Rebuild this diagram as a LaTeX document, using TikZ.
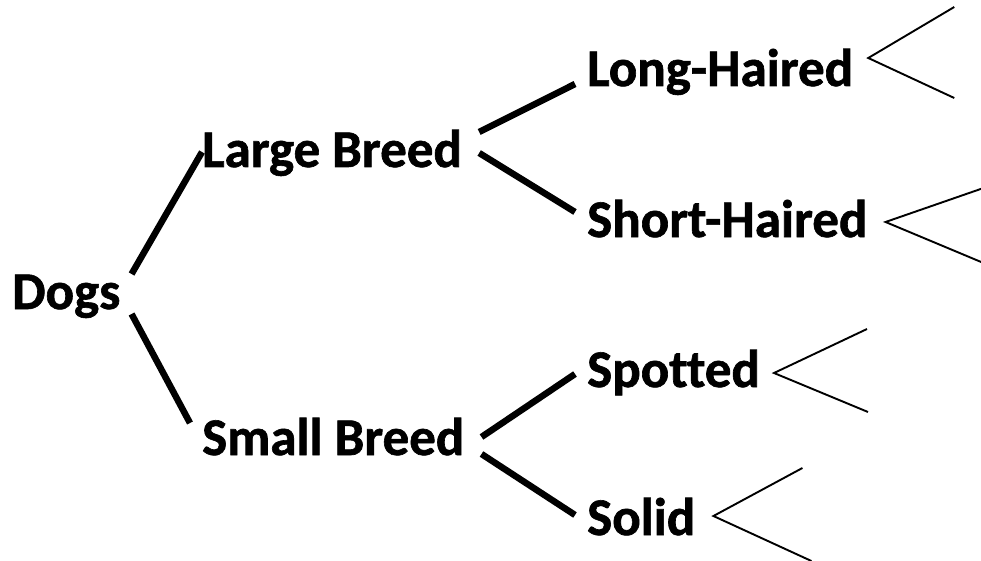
\documentclass[tikz,border=0pt]{standalone}
\usepackage{fontspec}
\setmainfont{Carlito}[Ligatures=NoCommon, BoldFeatures={FakeBold=1.2}]
\begin{document}
\begin{tikzpicture}[x=1pt, y=-1pt, lbl/.style = {font=\fontsize{53}{60}\selectfont\bfseries, anchor=west, inner sep=0pt, text height=34pt, text depth=0pt}, branch/.style = {line width=6.5pt}, fork/.style = {line width=1.9pt}]
      \useasboundingbox (0,0) rectangle (981,561);
      \node[lbl] (dogs) at (12,292) {Dogs};
      \node[lbl] (large) at (202,150) {Large Breed};
      \node[lbl] (small) at (202,438) {Small Breed};
      \node[lbl] (long) at (587,69) {Long-Haired};
      \node[lbl] (short) at (587,220) {Short-Haired};
      \node[lbl] (spotted) at (587,370) {Spotted};
      \node[lbl] (solid) at (587,518) {Solid};
      \draw[branch] ([shift={(11,-18)}]dogs.east) -- ([shift={(0,2)}]large.west);
      \draw[branch] ([shift={(11,22)}]dogs.east) -- ([shift={(-12,-15)}]small.west);
      \draw[branch] ([shift={(17,-18)}]large.east) -- ([shift={(-12,15)}]long.west);
      \draw[branch] ([shift={(17,3)}]large.east) -- ([shift={(-12,-8)}]short.west);
      \draw[branch] ([shift={(17,-1)}]small.east) -- ([shift={(-12,4)}]spotted.west);
      \draw[branch] ([shift={(17,16)}]small.east) -- ([shift={(-12,-3)}]solid.west);
      \draw[fork] ([shift={(15,-11)}]long.east) ++(86,-51) -- ([shift={(15,-11)}]long.east) -- ++(86,40);
      \draw[fork] ([shift={(18,2)}]short.east) ++(98,-34) -- ([shift={(18,2)}]short.east) -- ++(98,41);
      \draw[fork] ([shift={(14,3)}]spotted.east) ++(93,-44) -- ([shift={(14,3)}]spotted.east) -- ++(94,39);
      \draw[fork] ([shift={(18,-2)}]solid.east) ++(89,-48) -- ([shift={(18,-2)}]solid.east) -- ++(98,45);
\end{tikzpicture}
\end{document}
